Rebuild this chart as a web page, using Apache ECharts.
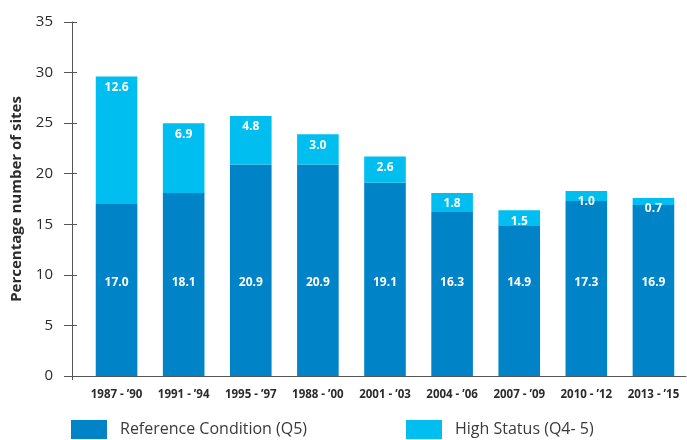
<!DOCTYPE html>
<html>
<head>
<meta charset="utf-8">
<script src="https://cdn.jsdelivr.net/npm/echarts@6/dist/echarts.min.js"></script>
<style>
  html, body { margin: 0; padding: 0; background: #fff; }
  #chart { width: 687px; height: 440px; }
</style>
</head>
<body>
<div id="chart"></div>
<script>
// Sampling periods
const periods = ['1987 - \u201990', '1991 - \u201994', '1995 - \u201997', '1988 - \u201900', '2001 - \u201903',
                 '2004 - \u201906', '2007 - \u201909', '2010 - \u201912', '2013 - \u201915'];
// Percentage of sites in reference condition (Q5)
const referenceQ5 = [17.0, 18.1, 20.9, 20.9, 19.1, 16.3, 14.9, 17.3, 16.9];
// Additional percentage of sites at high status (Q4-5)
const highStatus = [12.6, 6.9, 4.8, 3.0, 2.6, 1.8, 1.5, 1.0, 0.7];
// Y axis range and step
const yMin = 0, yMax = 35, yStep = 5;

const FONT = '"Open Sans", "Noto Sans", sans-serif';
const DARK = '#0084C7';
const LIGHT = '#00BFF0';
const AXIS = '#555555';
const TEXT = '#2b2b2b';

const chart = echarts.init(document.getElementById('chart'), null, { renderer: 'canvas' });

const valueLabel = (pos, dist) => ({
  show: true,
  position: pos,
  distance: dist,
  color: '#ffffff',
  fontFamily: FONT,
  fontWeight: 'bold',
  fontSize: 12,
  formatter: p => Number(p.value).toFixed(1)
});

const legendBox = (name, left) => ({
  data: [name],
  left: left, top: 420,
  padding: 0,
  itemWidth: 36, itemHeight: 19, itemGap: 0,
  icon: 'rect',
  textStyle: { fontFamily: FONT, fontSize: 16, color: '#3a3a3a', padding: [0, 0, 0, 8] }
});

chart.setOption({
  animation: false,
  textStyle: { fontFamily: FONT },
  grid: [
    // bars
    { left: 83, right: -7, top: 22, bottom: 64 },
    // axis frame
    { left: 72, right: 1, top: 22, bottom: 64 }
  ],
  legend: [
    legendBox('Reference Condition (Q5)', 71),
    legendBox('High Status (Q4- 5)', 406)
  ],
  xAxis: [
    {
      type: 'category',
      gridIndex: 0,
      data: periods,
      axisLine: { show: false },
      axisTick: { show: false },
      axisLabel: { color: TEXT, fontFamily: FONT, fontWeight: 'bold', fontSize: 11.5, margin: 13 }
    },
    {
      type: 'value',
      gridIndex: 1,
      min: 0, max: 1,
      axisLine: { show: true, lineStyle: { color: AXIS, width: 1 } },
      axisTick: { show: true, length: 4, customValues: [0], lineStyle: { color: AXIS } },
      axisLabel: { show: false },
      splitLine: { show: false }
    }
  ],
  yAxis: [
    {
      type: 'value',
      gridIndex: 0,
      min: yMin, max: yMax, interval: yStep,
      show: false
    },
    {
      type: 'value',
      gridIndex: 1,
      position: 'left',
      min: yMin, max: yMax, interval: yStep,
      name: 'Percentage number of sites',
      nameLocation: 'middle',
      nameGap: 48,
      nameTextStyle: { fontFamily: FONT, fontWeight: 'bold', fontSize: 15, color: TEXT },
      axisLine: { show: true, lineStyle: { color: AXIS, width: 1 } },
      axisTick: { show: true, length: 8, lineStyle: { color: AXIS } },
      axisLabel: { color: TEXT, fontFamily: FONT, fontSize: 15, margin: 19 },
      splitLine: { show: false }
    },
    {
      type: 'value',
      gridIndex: 1,
      position: 'left',
      min: yMin, max: yMax, interval: yStep,
      axisLine: { show: false },
      axisTick: { show: true, inside: true, length: 5, lineStyle: { color: AXIS } },
      axisLabel: { show: false },
      splitLine: { show: false }
    }
  ],
  series: [
    {
      name: 'Reference Condition (Q5)',
      type: 'bar',
      stack: 'sites',
      xAxisIndex: 0, yAxisIndex: 0,
      barWidth: '62%',
      itemStyle: { color: DARK },
      label: valueLabel('insideBottom', 87),
      data: referenceQ5
    },
    {
      name: 'High Status (Q4- 5)',
      type: 'bar',
      stack: 'sites',
      xAxisIndex: 0, yAxisIndex: 0,
      barWidth: '62%',
      itemStyle: { color: LIGHT },
      label: valueLabel('insideTop', 5),
      data: highStatus
    }
  ]
});
</script>
</body>
</html>
